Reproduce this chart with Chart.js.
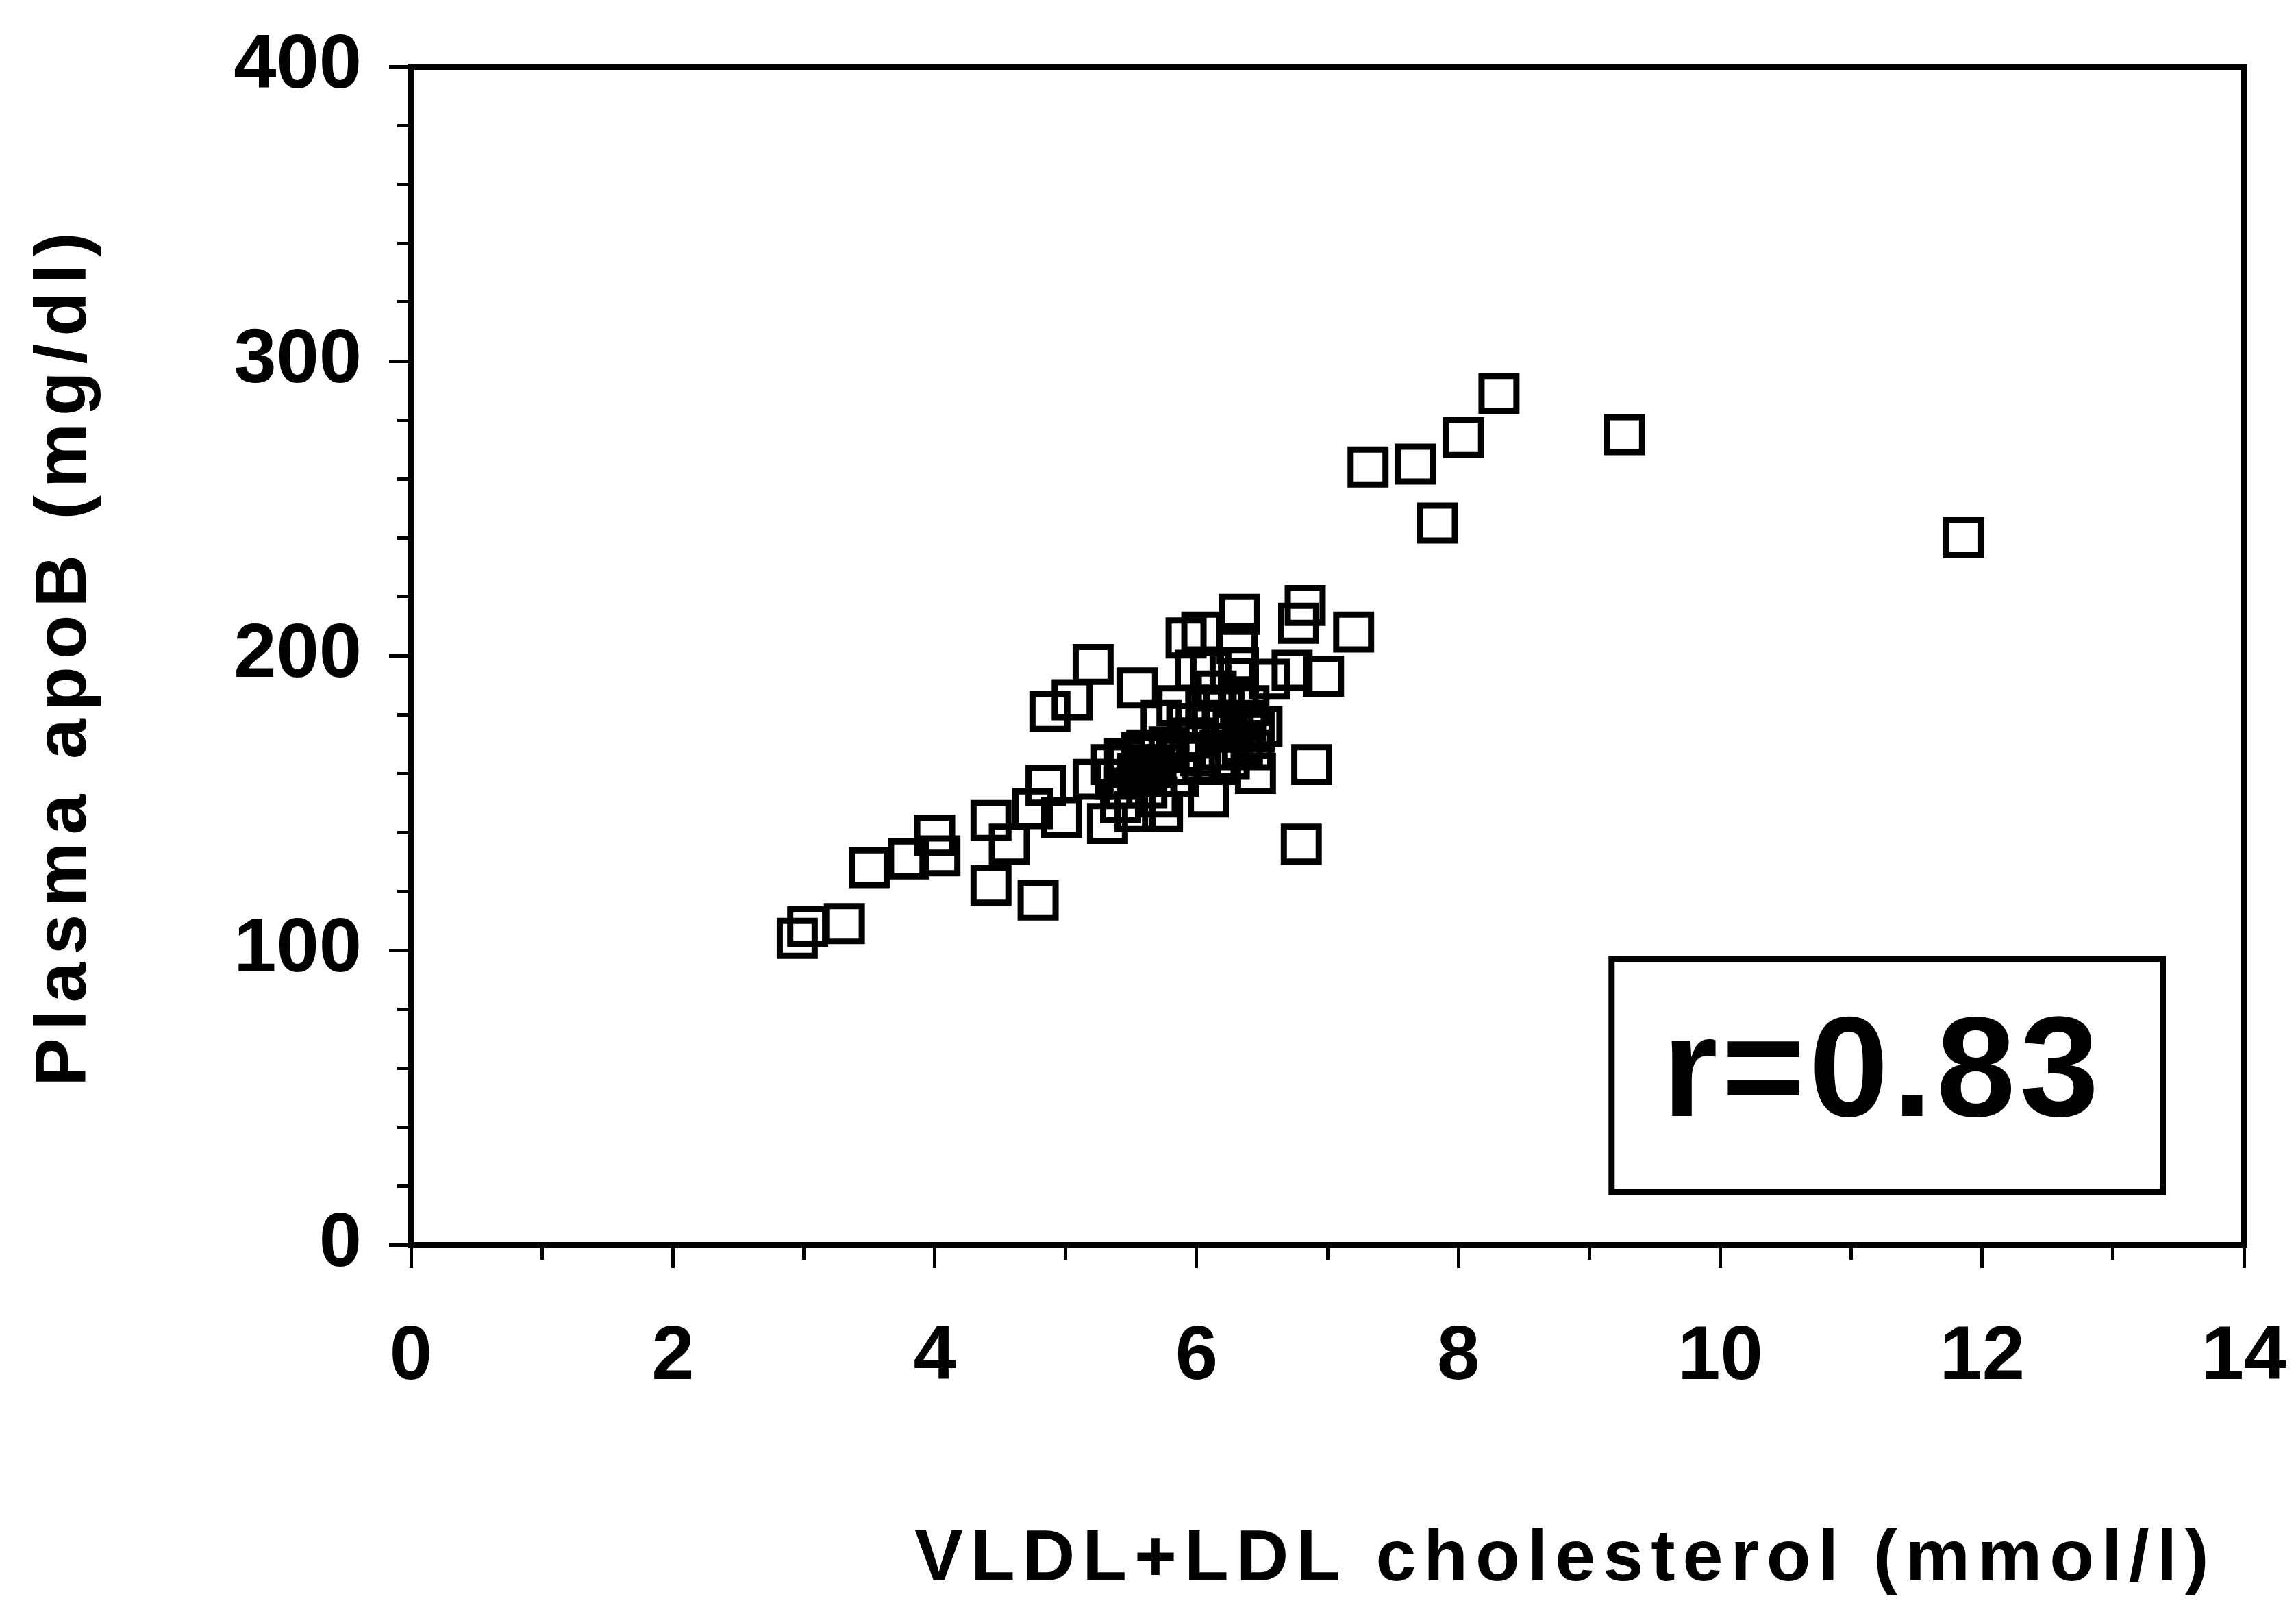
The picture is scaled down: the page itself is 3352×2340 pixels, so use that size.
<!DOCTYPE html>
<html>
<head>
<meta charset="utf-8">
<script src="https://cdn.jsdelivr.net/npm/chart.js@4.4.1/dist/chart.umd.min.js"></script>
<style>
  html, body { margin: 0; padding: 0; background: #fff; }
  #wrap { width: 3352px; height: 2340px; position: relative; }
</style>
</head>
<body>
<div id="wrap"><canvas id="chart"></canvas></div>
<script>
// data
const cholesterol = [
  2.95, 3.03, 3.31, 3.50, 3.80, 4.00, 4.04,
  4.43, 4.43, 4.57, 4.79, 4.85, 4.75, 4.97,
  4.88, 5.05, 5.21, 5.55, 5.21, 5.32,
  5.74, 6.09, 6.03, 5.88, 5.73, 5.93, 6.07,
  6.32, 6.32, 6.31, 6.33, 6.04, 5.92, 5.99, 6.11,
  6.28, 6.43, 6.56, 6.73, 6.97, 7.20, 6.83, 6.78,
  6.88, 6.80, 5.53, 5.38, 5.48, 5.58, 5.69, 5.79,
  5.86, 6.18, 6.21, 6.44, 6.25, 6.00, 5.62, 6.15, 6.38,
  5.45, 5.65, 5.78, 5.55, 5.42, 6.35, 6.50, 6.20, 5.85, 5.95,
  5.45, 5.62, 5.70, 6.12, 6.40, 6.45, 6.15, 5.35,
  7.31, 7.67, 8.04, 7.84, 8.31, 9.27, 11.86
];
const apoB = [
  104, 108, 109, 128, 131, 139, 132,
  144, 122, 136, 117, 156, 148, 145,
  181, 185, 197, 189, 158, 143,
  147, 152, 166, 167, 178, 177, 182,
  186, 196, 204, 214, 208, 206, 195, 195,
  174, 168, 192, 195, 193, 208, 217, 211,
  163, 136, 147, 158, 163, 167, 159, 169,
  159, 168, 182, 174, 165, 172, 155, 188, 178,
  155, 162, 163, 160, 150, 170, 176, 176, 183, 172,
  165, 168, 152, 178, 183, 160, 163, 163,
  264, 265, 274, 245, 289, 275, 240
];
const xTicks = [0, 2, 4, 6, 8, 10, 12, 14];
const xMinorTicks = [1, 3, 5, 7, 9, 11, 13];
const yTicks = [0, 100, 200, 300, 400];
const yMinorTicks = [20, 40, 60, 80, 120, 140, 160, 180, 220, 240, 260, 280, 320, 340, 360, 380];
const xTitle = "VLDL+LDL cholesterol (mmol/l)";
const yTitle = "Plasma apoB (mg/dl)";
const corrLabel = "r=0.83";

const FONT = "'Liberation Sans', Arial, Helvetica, sans-serif";
const LINE = 9;

// titles are letter-spaced, tick labels are not (tick labels drawn after datasets, z=1)
const spacingPlugin = {
  id: "spacing",
  beforeDraw(chart) { chart.ctx.letterSpacing = "11px"; },
  afterDatasetsDraw(chart) { chart.ctx.letterSpacing = "0px"; },
  afterDraw(chart) {
    const { ctx, scales: { x, y } } = chart;
    const l = x.getPixelForValue(9.17), r = x.getPixelForValue(13.38);
    const t = y.getPixelForValue(97), b = y.getPixelForValue(18);
    ctx.save();
    ctx.lineWidth = LINE;
    ctx.strokeStyle = "#000";
    ctx.strokeRect(l, t, r - l, b - t);
    ctx.font = "bold 208px " + FONT;
    ctx.letterSpacing = "6px";
    ctx.fillStyle = "#000";
    ctx.textAlign = "center";
    ctx.textBaseline = "middle";
    ctx.fillText(corrLabel, x.getPixelForValue(11.24), y.getPixelForValue(57));
    ctx.restore();
  }
};

const edgeAxis = (axis, pos) => ({
  type: "linear", axis: axis, position: pos,
  min: 0, max: axis === "x" ? 14 : 400,
  ticks: { display: false },
  grid: { display: true, drawOnChartArea: false, drawTicks: false, lineWidth: LINE, color: "#000" },
  border: { display: true, width: LINE, color: "#000" }
});

const minorAxis = (axis, pos, values, len) => ({
  type: "linear", axis: axis, position: pos,
  min: 0, max: axis === "x" ? 14 : 400,
  afterBuildTicks: s => { s.ticks = values.map(v => ({ value: v })); },
  ticks: { display: false },
  grid: { drawOnChartArea: false, drawTicks: true, tickLength: len, tickWidth: 5, lineWidth: LINE, color: "#000" },
  border: { display: false }
});

new Chart(document.getElementById("chart"), {
  type: "scatter",
  data: {
    datasets: [{
      data: cholesterol.map((v, i) => ({ x: v, y: apoB[i] })),
      pointStyle: "rect",
      pointRadius: 36,
      pointHoverRadius: 36,
      borderWidth: 9,
      borderColor: "#000",
      backgroundColor: "rgba(0,0,0,0)"
    }]
  },
  options: {
    responsive: true,
    maintainAspectRatio: false,
    animation: false,
    layout: { padding: { left: 0, top: 97, right: 76, bottom: 0 } },
    plugins: { legend: { display: false }, tooltip: { enabled: false } },
    scales: {
      x: {
        type: "linear", position: "bottom", min: 0, max: 14,
        afterBuildTicks: s => { s.ticks = xTicks.map(v => ({ value: v })); },
        afterFit: s => { s.height = 523; },
        ticks: { z: 1, color: "#000", padding: 2, font: { family: FONT, size: 112, weight: "bold", lineHeight: 2.3 } },
        grid: { drawOnChartArea: false, drawTicks: true, tickLength: 34, tickWidth: 5, lineWidth: LINE, color: "#000" },
        border: { display: true, width: LINE, color: "#000" },
        title: {
          display: true, text: xTitle + " ", align: "end", color: "#000",
          font: { family: FONT, size: 106, weight: "bold", lineHeight: 1 },
          padding: { top: 0, bottom: 9 }
        }
      },
      y: {
        type: "linear", position: "left", min: 0, max: 400,
        afterBuildTicks: s => { s.ticks = yTicks.map(v => ({ value: v })); },
        afterFit: s => { s.width = 600; },
        ticks: { z: 1, color: "#000", padding: 40, font: { family: FONT, size: 112, weight: "bold", lineHeight: 1 } },
        grid: { drawOnChartArea: false, drawTicks: true, tickLength: 32, tickWidth: 5, lineWidth: LINE, color: "#000" },
        border: { display: true, width: LINE, color: "#000" },
        title: {
          display: true, text: yTitle, color: "#000",
          font: { family: FONT, size: 106, weight: "bold", lineHeight: 1 },
          padding: { top: 43, bottom: 0 }
        }
      },
      xMinor: minorAxis("x", { y: 0 }, xMinorTicks, 22),
      yMinor: minorAxis("y", { x: 0 }, yMinorTicks, 20),
      xTop: edgeAxis("x", { y: 400 }),
      yRight: edgeAxis("y", { x: 14 })
    }
  },
  plugins: [spacingPlugin]
});
</script>
</body>
</html>
